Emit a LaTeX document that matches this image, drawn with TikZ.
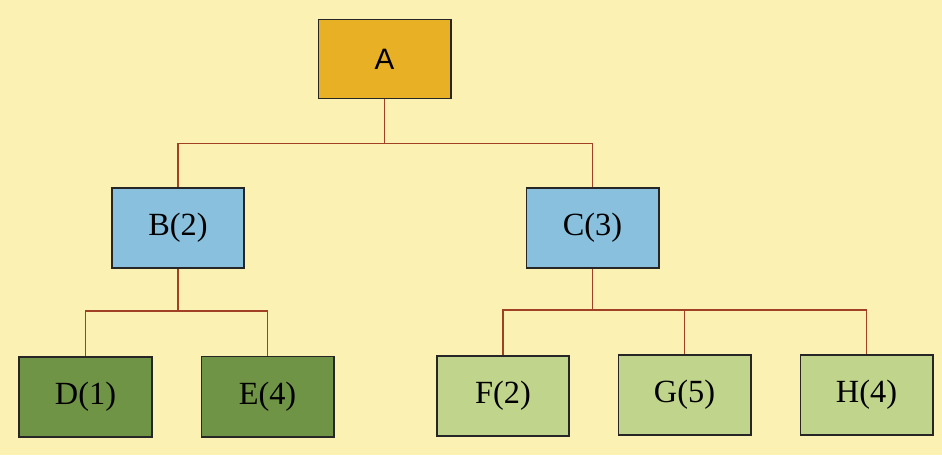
\documentclass[tikz,border=0pt]{standalone}
\usepackage{xcolor}
\usepackage{fontspec}
\setmainfont{Liberation Serif}
\newfontfamily\rootfont{Liberation Sans}
\usepackage{tikz}
\usetikzlibrary{arrows, shapes}

\definecolor{paper}{RGB}{250,241,178}
\definecolor{rootgold}{RGB}{232,176,36}
\definecolor{midblue}{RGB}{136,192,222}
\definecolor{leafdark}{RGB}{112,148,70}
\definecolor{leaflight}{RGB}{192,212,140}
\definecolor{linkred}{RGB}{160,64,36}

\begin{document}
\begin{tikzpicture}[x=0.025cm, y=-0.025cm,
		part/.style={draw=black!85, line width=1.4pt, inner sep=0pt, minimum width=3.3cm, minimum height=2cm, font=\fontsize{23}{26}\selectfont},
		link/.style={draw=linkred, line width=1pt}]
				\fill[paper] (0,0) rectangle (942,455);
				\useasboundingbox (0,0) rectangle (942,455);
				% items
				\node[part, fill=rootgold, minimum height=1.975cm, font=\rootfont\fontsize{21}{24}\selectfont] (A) at (384.5,59) {A};
				\node[part, fill=midblue] (B) at (178,228) {B(2)};
				\node[part, fill=midblue] (C) at (592.5,228) {C(3)};
				\node[part, fill=leafdark] (D) at (85.5,397) {D(1)};
				\node[part, fill=leafdark] (E) at (267.5,396.5) {E(4)};
				\node[part, fill=leaflight] (F) at (503,396) {F(2)};
				\node[part, fill=leaflight] (G) at (684.5,395) {G(5)};
				\node[part, fill=leaflight] (H) at (866.5,395) {H(4)};
				% links
				\path[link] (A.south) -- ++(0,44) -| (B.north);
				\path[link] (A.south) -- ++(0,44) -| (C.north);
				\path[link] (B.south) -- ++(0,42) -| (D.north);
				\path[link] (B.south) -- ++(0,42) -| (E.north);
				\path[link] (C.south) -- ++(0,41) -| (F.north);
				\path[link] (C.south) -- ++(0,41) -| (G.north);
				\path[link] (C.south) -- ++(0,41) -| (H.north);
			\end{tikzpicture}
\end{document}
